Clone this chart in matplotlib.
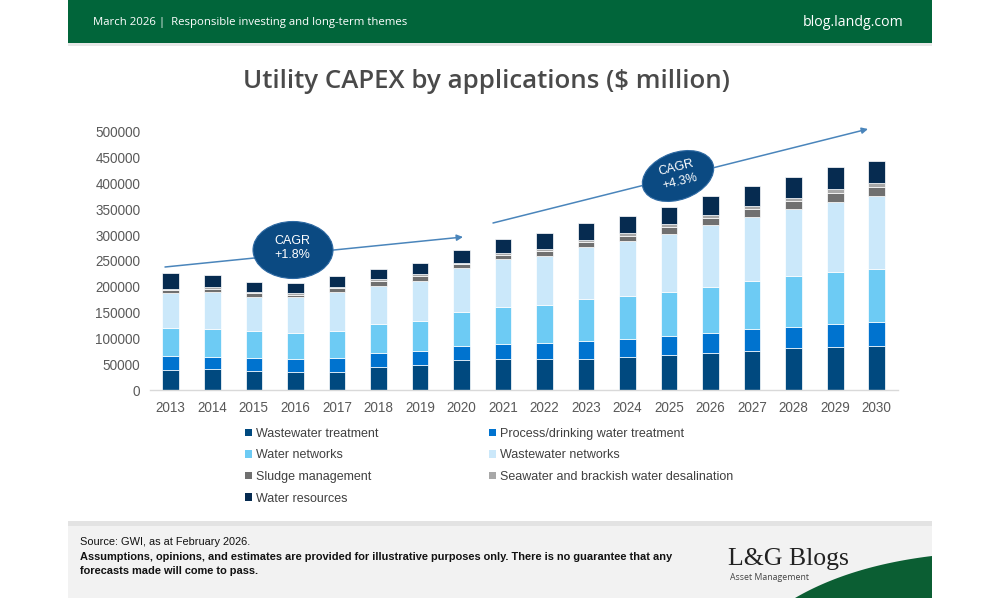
import matplotlib
matplotlib.use("Agg")
import matplotlib.pyplot as plt
from matplotlib.patches import Rectangle, Ellipse, Polygon
import numpy as np

# ---------------- data ----------------
years = ["2013", "2014", "2015", "2016", "2017", "2018", "2019", "2020", "2021",
         "2022", "2023", "2024", "2025", "2026", "2027", "2028", "2029", "2030"]

wastewater_treatment = [38700, 40700, 36800, 35500, 35500, 45200, 48400, 58100, 59400,
                        59400, 60700, 63900, 68400, 71600, 76100, 81300, 83900, 85800]
process_drinking = [27100, 23800, 24500, 23900, 25800, 25800, 26500, 27700, 29700,
                    30900, 34200, 34800, 36800, 38100, 42000, 41300, 43900, 45200]
water_networks = [53600, 52900, 52900, 51600, 53600, 56800, 59300, 64600, 70900,
                  74300, 81300, 83900, 85200, 90300, 92900, 98100, 100600, 103900]
wastewater_networks = [67700, 71700, 66500, 68400, 74200, 74200, 77500, 85100, 93000,
                       94800, 100000, 105200, 111600, 120100, 124600, 129700, 136200, 140700]
sludge = [6400, 6800, 6800, 5400, 7600, 8500, 9000, 7700, 9000,
          9000, 9900, 10800, 13100, 13100, 14900, 15300, 17100, 18000]
desalination = [2700, 2900, 2900, 2300, 3300, 3700, 3900, 3300, 3900,
                3900, 4300, 4700, 5600, 5600, 6400, 6600, 7400, 7800]
water_resources = [30900, 23800, 19300, 19400, 20700, 20700, 21900, 24500, 25800,
                   31000, 33500, 32900, 32900, 36100, 37400, 40700, 42000, 42600]

series_names = ["Wastewater treatment", "Process/drinking water treatment", "Water networks",
                "Wastewater networks", "Sludge management",
                "Seawater and brackish water desalination", "Water resources"]
series_values = [wastewater_treatment, process_drinking, water_networks, wastewater_networks,
                 sludge, desalination, water_resources]
series_colors = ["#00497f", "#0073cf", "#6dcbf4", "#cbe8fa", "#707070", "#a8a8a8", "#062b50"]

y_ticks = [0, 50000, 100000, 150000, 200000, 250000, 300000, 350000, 400000, 450000, 500000]

cagr_labels = ["CAGR\n+1.8%", "CAGR\n+4.3%"]

# ---------------- figure ----------------
plt.rcParams["font.family"] = ["Liberation Sans", "DejaVu Sans"]
fig = plt.figure(figsize=(10, 6), dpi=100)

bg = fig.add_axes([0, 0, 1, 1], zorder=0)
bg.set_xlim(0, 1000)
bg.set_ylim(600, 0)
bg.axis("off")

green = "#01653a"
bg.add_patch(Rectangle((68, 0), 864, 43, color=green, lw=0))
bg.add_patch(Rectangle((68, 43), 864, 3, color="#e8e8e8", lw=0))
bg.text(93, 23, "March 2026 |  Responsible investing and long-term themes", color="white",
        fontsize=8.2, family=["Open Sans", "DejaVu Sans"], va="center", ha="left")
bg.text(903, 22, "blog.landg.com", color="white", fontsize=10.2,
        family=["Open Sans", "DejaVu Sans"], va="center", ha="right")

bg.text(486, 88, "Utility CAPEX by applications ($ million)", color="#4a4a4a", fontsize=18.6,
        fontweight="semibold", family=["Open Sans", "DejaVu Sans"], va="baseline",
        ha="center")

# footer
bg.add_patch(Rectangle((68, 522), 864, 76, color="#f2f2f2", lw=0))
bg.add_patch(Rectangle((68, 521), 864, 5, color="#e3e3e3", lw=0))
t = np.linspace(0, 1, 40)
p0, p1, p2 = np.array([795, 598]), np.array([850, 566]), np.array([932, 556])
curve = [(1 - s) ** 2 * p0 + 2 * (1 - s) * s * p1 + s ** 2 * p2 for s in t]
bg.add_patch(Polygon(curve + [(932, 598)], closed=True, color="#0b5e33", lw=0))

bg.text(80, 542, "Source: GWI, as at February 2026.", fontsize=7.9, color="#111111",
        va="center", ha="left")
bg.text(80, 557, "Assumptions, opinions, and estimates are provided for illustrative purposes only. "
        "There is no guarantee that any", fontsize=7.9, fontweight="bold", color="#111111",
        va="center", ha="left")
bg.text(80, 571, "forecasts made will come to pass.", fontsize=7.9, fontweight="bold",
        color="#111111", va="center", ha="left")
bg.text(728, 565, "L&G Blogs", fontsize=18.5, family=["Liberation Serif", "DejaVu Serif"],
        color="#222222", va="baseline", ha="left")
bg.text(730, 577, "Asset Management", fontsize=6.3, family=["Open Sans", "DejaVu Sans"],
        color="#444444", va="center", ha="left")

# ---------------- chart ----------------
ax = fig.add_axes([0.150, 0.35, 0.7475, 0.4305], zorder=1)
ax.patch.set_alpha(0)
x = np.arange(len(years))
bottom = np.zeros(len(years))
handles = []
for name, vals, col in zip(series_names, series_values, series_colors):
    b = ax.bar(x, vals, 0.4, bottom=bottom, color=col, edgecolor="white", linewidth=0.5,
               label=name)
    handles.append(b)
    bottom = bottom + np.array(vals)

ax.set_xlim(-0.5, len(years) - 0.5)
ax.set_ylim(0, 500000)
ax.set_yticks(y_ticks)
ax.set_yticklabels([str(v) for v in y_ticks])
ax.set_xticks(x)
ax.set_xticklabels(years)
for s in ["top", "right", "left"]:
    ax.spines[s].set_visible(False)
ax.spines["bottom"].set_color("#d9d9d9")
ax.spines["bottom"].set_linewidth(1.0)
ax.tick_params(axis="both", length=0, labelsize=9.75, colors="#595959")
ax.tick_params(axis="y", pad=7)
ax.tick_params(axis="x", pad=8)

order = [0, 2, 4, 6, 1, 3, 5]
legend_handles = []
for i in order:
    legend_handles.append(Rectangle((0, 0), 1, 1, facecolor=series_colors[i],
                                    edgecolor="none"))
leg = fig.legend(legend_handles, [series_names[i] for i in order], ncol=2,
                 loc="upper left", bbox_to_anchor=(0.245, 1 - 428 / 600), frameon=False,
                 fontsize=9, handlelength=0.55, handleheight=0.55, handletextpad=0.35,
                 columnspacing=8.8, labelspacing=0.76, borderpad=0, borderaxespad=0)
for txt in leg.get_texts():
    txt.set_color("#404040")

# ---------------- annotations ----------------
ov = fig.add_axes([0, 0, 1, 1], zorder=3)
ov.set_xlim(0, 1000)
ov.set_ylim(600, 0)
ov.axis("off")
ov.patch.set_alpha(0)

arrow_kw = dict(arrowstyle="-|>", color="#4a85bb", lw=1.1, mutation_scale=9,
                shrinkA=0, shrinkB=0)
ov.annotate("", xy=(463, 237), xytext=(165, 267), arrowprops=arrow_kw)
ov.annotate("", xy=(868, 129), xytext=(493, 223), arrowprops=arrow_kw)

ov.add_patch(Ellipse((293, 250), 80, 57, angle=0, facecolor="#0b4a82",
                     edgecolor="#2f6aa3", lw=0.8, zorder=4))
ov.text(292, 248, cagr_labels[0], color="white", fontsize=9, ha="center", va="center",
        linespacing=1.25, zorder=5)
ov.add_patch(Ellipse((678, 176), 74, 47, angle=-20, facecolor="#0b4a82",
                     edgecolor="#2f6aa3", lw=0.8, zorder=4))
ov.text(678, 175, cagr_labels[1], color="white", fontsize=9, ha="center", va="center",
        linespacing=1.25, rotation=14, rotation_mode="anchor", zorder=5)

fig.savefig("out.png", dpi=100)
